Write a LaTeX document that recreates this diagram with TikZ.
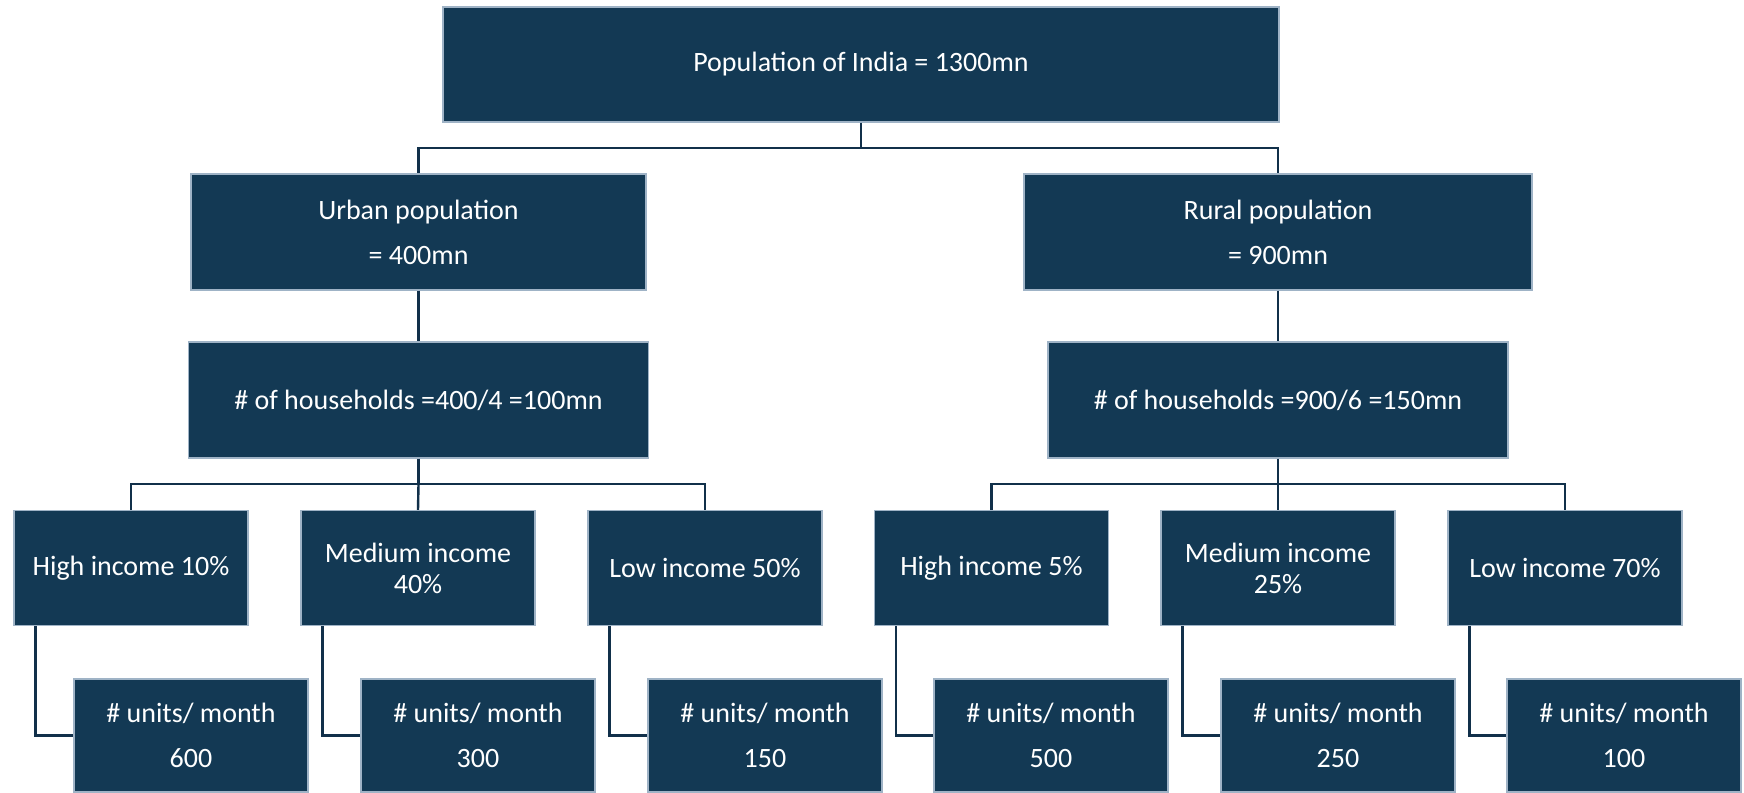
\documentclass[tikz,border=0pt]{standalone}
\usepackage{fontspec}
\setmainfont{Carlito}
\usepackage{tikz}
\usetikzlibrary{positioning,calc}
\definecolor{treenavy}{HTML}{133954}
\definecolor{treeline}{HTML}{11304A}
\definecolor{treeedge}{HTML}{9FB3C6}

\begin{document}
\begin{tikzpicture}[
  x=0.5pt, y=-0.5pt,
  font=\fontsize{14}{16}\selectfont,
  levelbox/.style={
    draw=treeedge,
    fill=treenavy,
    line width=0.6pt,
    text=white,
    inner sep=0pt,
    minimum height=58pt,
    align=center
  },
  incomebox/.style={
    levelbox,
    minimum width=117pt,
    minimum height=57.5pt
  },
  unitbox/.style={
    levelbox,
    minimum width=117pt,
    minimum height=56.5pt
  },
  link/.style={
    draw=treeline,
    line width=1.2pt
  }
]
  \useasboundingbox (0,0) rectangle (1744,792);

  % --- TOP: TOTAL POPULATION ---
  \node[levelbox, minimum width=418pt, minimum height=57.5pt] (india) at (861, 64.5) {Population of India = 1300mn};

  % --- SECOND LEVEL: URBAN / RURAL ---
  \node[levelbox, minimum width=227.5pt] (urban) at (418.5, 232) {Urban population\\[6.5pt]= 400mn};
  \node[levelbox, minimum width=254pt] (rural) at (1278, 232) {Rural population\\[6.5pt]= 900mn};

  % --- THIRD LEVEL: HOUSEHOLDS ---
  \node[levelbox, minimum width=230pt] (urbanhh) at (418.5, 400) {\# of households =400/4 =100mn};
  \node[levelbox, minimum width=230pt] (ruralhh) at (1278, 400) {\# of households =900/6 =150mn};

  % --- FOURTH LEVEL: INCOME GROUPS ---
  \node[incomebox] (uhigh) at (131, 568) {High income 10\%};
  \node[incomebox] (umed) at (418, 568) {Medium income\\[-0.5pt]40\%};
  \node[incomebox] (ulow) at (705, 568) {Low income 50\%};
  \node[incomebox] (rhigh) at (991.5, 568) {High income 5\%};
  \node[incomebox] (rmed) at (1278, 568) {Medium income\\[-0.5pt]25\%};
  \node[incomebox] (rlow) at (1565, 568) {Low income 70\%};

  % --- BOTTOM LEVEL: UNITS PER MONTH ---
  \node[unitbox] (uhighunits) at (191, 735.5) {\# units/ month\\[6.5pt]600};
  \node[unitbox] (umedunits) at (478, 735.5) {\# units/ month\\[6.5pt]300};
  \node[unitbox] (ulowunits) at (765, 735.5) {\# units/ month\\[6.5pt]150};
  \node[unitbox] (rhighunits) at (1051, 735.5) {\# units/ month\\[6.5pt]500};
  \node[unitbox] (rmedunits) at (1338, 735.5) {\# units/ month\\[6.5pt]250};
  \node[unitbox] (rlowunits) at (1624, 735.5) {\# units/ month\\[6.5pt]100};

  % Connectors: population split
  \coordinate (popbus) at ($(india.south)!0.5!(india.south |- urban.north)$);
  \draw[link] (india.south) -- (popbus) -| (urban.north);
  \draw[link] (popbus) -| (rural.north);

  % Connectors: households
  \draw[link] (urban.south) -- (urbanhh.north);
  \draw[link] (rural.south) -- (ruralhh.north);

  % Connectors: income split
  \coordinate (ubus) at ($(urbanhh.south)!0.5!(urbanhh.south |- umed.north)$);
  \draw[link] (urbanhh.south) -- (ubus) -| (uhigh.north);
  \draw[link] (ubus) -| (ulow.north);
  \draw[link] (ubus) -- (umed.north);

  \coordinate (rbus) at ($(ruralhh.south)!0.5!(ruralhh.south |- rmed.north)$);
  \draw[link] (ruralhh.south) -- (rbus) -| (rhigh.north);
  \draw[link] (rbus) -| (rlow.north);
  \draw[link] (rbus) -- (rmed.north);

  % Connectors: elbows to units
  \draw[link] ([xshift=11pt]uhigh.south west) |- (uhighunits.west);
  \draw[link] ([xshift=11pt]umed.south west) |- (umedunits.west);
  \draw[link] ([xshift=11pt]ulow.south west) |- (ulowunits.west);
  \draw[link] ([xshift=11pt]rhigh.south west) |- (rhighunits.west);
  \draw[link] ([xshift=11pt]rmed.south west) |- (rmedunits.west);
  \draw[link] ([xshift=11pt]rlow.south west) |- (rlowunits.west);

\end{tikzpicture}
\end{document}
